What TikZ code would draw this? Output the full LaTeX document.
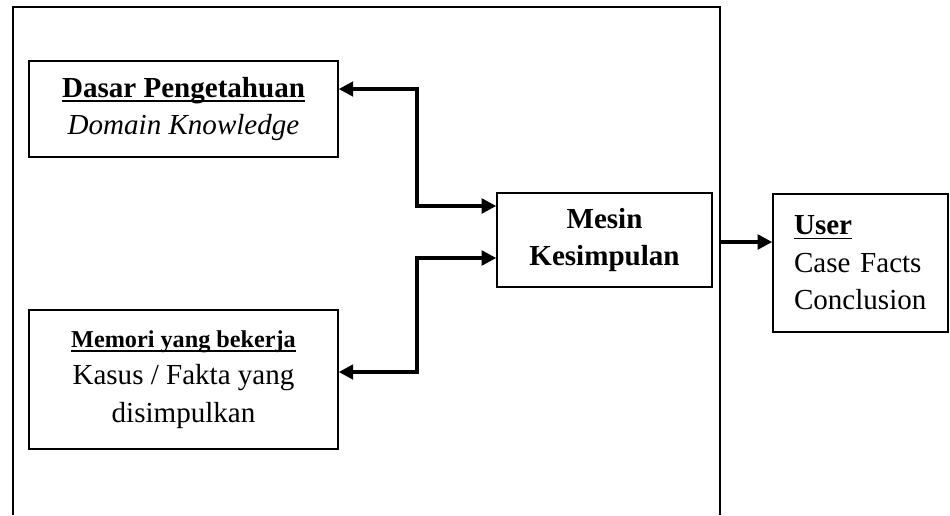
\documentclass[tikz,border=0pt]{standalone}
\usepackage{fontspec}
\setmainfont{Liberation Serif}
\usetikzlibrary{arrows.meta}

% garis bawah tebal yang memotong kaki huruf
\newcommand{\garis}[1]{\leavevmode\setbox0\hbox{#1}\rlap{\rule[-1.9pt]{\wd0}{0.8pt}}\box0}

\begin{document}
\begin{tikzpicture}[x=0.413pt, y=-0.413pt,
		>={Triangle[length=6pt, width=6pt]},
		box/.style={draw, line width=0.6pt, inner sep=0pt, align=center, font=\fontsize{12}{15.5}\selectfont},
		link/.style={line width=1.4pt}]
		\useasboundingbox (0,0) rectangle (950,515);
		
		% sistem pakar (bingkai terbuka di bawah)
		\draw[line width=0.8pt] (13,515) -- (13,7) -- (720,7) -- (720,515);
		\coordinate (FrameOut) at (720,242);
		
		\node[box, minimum width=127.6pt, minimum height=39.6pt] (Dasar) at (183.5,109) {\textbf{\garis{Dasar Pengetahuan}} \\ \textit{Domain Knowledge}};
		\node[box, minimum width=127.6pt, minimum height=57.4pt] (Memori) at (183.5,379.5) {{\fontsize{10}{12}\selectfont\textbf{\garis{Memori yang bekerja}}} \\ Kasus / Fakta yang \\ disimpulkan};
		\node[box, minimum width=88.8pt, minimum height=38.8pt, font=\fontsize{12}{15.5}\selectfont\bfseries] (Mesin) at (604.5,240) {Mesin \\ Kesimpulan};
		\node[box, minimum width=72.3pt, minimum height=57pt, text width=54.9pt, align=left] (User) at (860.5,263) {\textbf{\garis{User}} \\ Case Facts \\ Conclusion};
		
		\draw[link, <->] (Dasar.east |- 0,89) -| (417,206) -- (Mesin.west |- 0,206);
		\draw[link, <->] (Memori.east |- 0,372) -| (417,258) -- (Mesin.west |- 0,258);
		\draw[link, ->] (FrameOut) -- (User.west |- FrameOut);
	\end{tikzpicture}
\end{document}
